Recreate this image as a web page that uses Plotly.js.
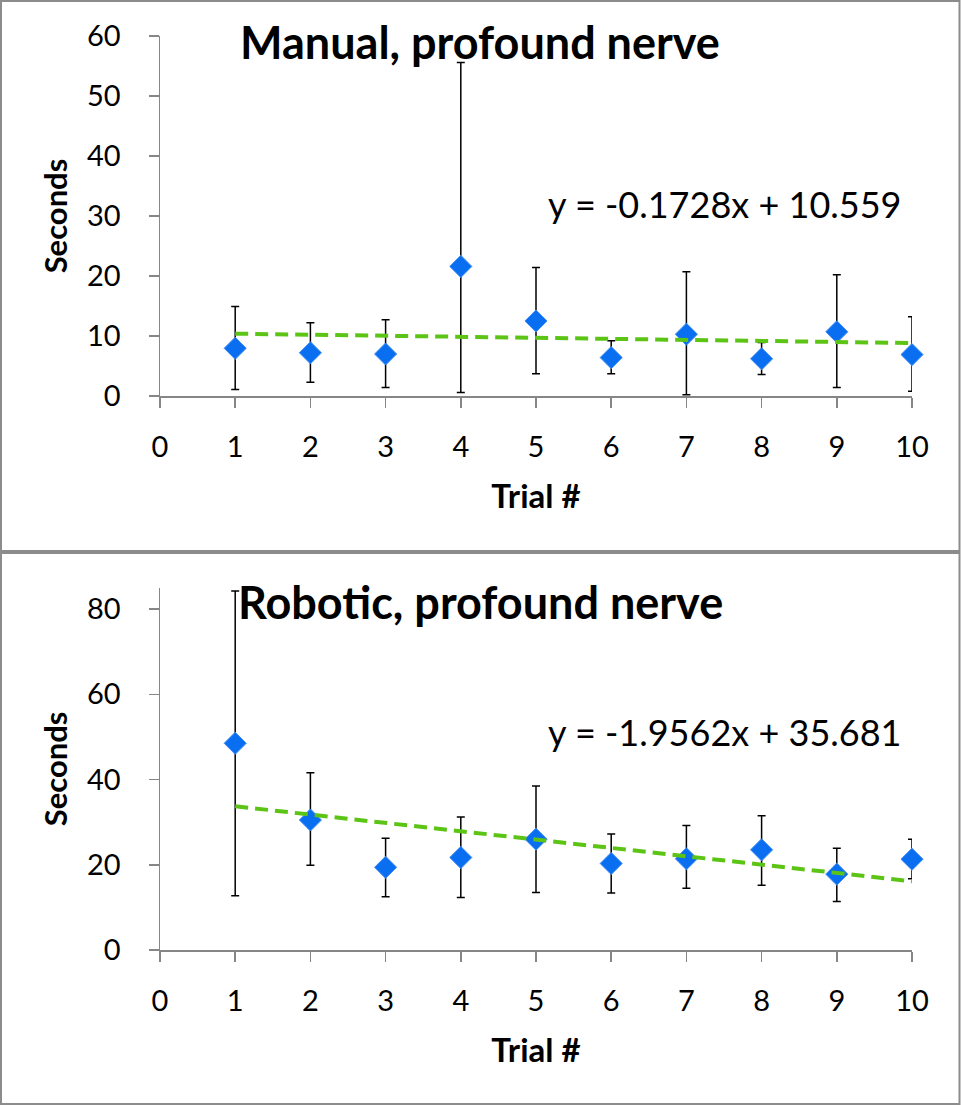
<!DOCTYPE html>
<html>
<head>
<meta charset="utf-8">
<script src="https://cdn.plot.ly/plotly-3.0.1.min.js"></script>
<style>html,body{margin:0;padding:0;background:#fff;}#chart{width:961px;height:1105px;}</style>
</head>
<body>
<div id="chart"></div>
<script>
// Data
const trials = [1, 2, 3, 4, 5, 6, 7, 8, 9, 10];

const manualMean = [7.95, 7.2, 7.0, 21.6, 12.5, 6.4, 10.3, 6.2, 10.7, 6.9];
const manualErrPlus = [6.95, 5.0, 5.7, 34.0, 8.9, 2.8, 10.4, 2.7, 9.5, 6.3];
const manualErrMinus = [6.85, 4.9, 5.6, 21.0, 8.8, 2.7, 10.1, 2.6, 9.3, 6.1];
const manualTrendX = [1, 10];
const manualTrendY = [10.386, 8.831];
const manualEquation = "y = -0.1728x + 10.559";

const roboticMean = [48.5, 30.5, 19.4, 21.7, 26.0, 20.3, 21.4, 23.5, 17.8, 21.3];
const roboticErrPlus = [35.7, 11.1, 6.8, 9.5, 12.5, 6.9, 7.8, 8.0, 6.1, 4.7];
const roboticErrMinus = [35.8, 10.6, 6.9, 9.4, 12.5, 6.9, 6.9, 8.3, 6.4, 4.6];
const roboticTrendX = [1, 10];
const roboticTrendY = [33.725, 16.119];
const roboticEquation = "y = -1.9562x + 35.681";

const titles = ["Manual, profound nerve", "Robotic, profound nerve"];
const xTitle = "Trial #";
const yTitle = "Seconds";
const xTicks = [0, 1, 2, 3, 4, 5, 6, 7, 8, 9, 10];

// Styling
const W = 961, H = 1105;
const FONT = "Lato, 'Open Sans', sans-serif";
const markerColor = "#0a6ef0";
const trendColor = "#5cc414";
const axisColor = "#868686";
const px = v => v / W;
const py = v => 1 - v / H;

function pointsTrace(y, plus, minus, yaxis) {
  return {
    type: "scatter", mode: "markers", x: trials, y: y, cliponaxis: false,
    xaxis: yaxis === "y" ? "x" : "x2", yaxis: yaxis,
    marker: {symbol: "diamond", size: 17, color: markerColor, line: {color: "#3f8cf5", width: 1}},
    error_y: {type: "data", symmetric: false, array: plus, arrayminus: minus,
              color: "#000", thickness: 1.5, width: 4},
    showlegend: false, hoverinfo: "x+y"
  };
}
function trendTrace(x, y, yaxis) {
  return {
    type: "scatter", mode: "lines", x: x, y: y, cliponaxis: false,
    xaxis: yaxis === "y" ? "x" : "x2", yaxis: yaxis,
    line: {color: trendColor, width: 4, dash: "13px,7px"},
    showlegend: false, hoverinfo: "skip"
  };
}

const xCommon = {
  range: [0, 10], tickvals: xTicks, showgrid: false, zeroline: false,
  showline: true, linecolor: axisColor, linewidth: 1.5,
  ticks: "outside", ticklen: 10, tickcolor: axisColor, tickwidth: 1.5,
  tickfont: {family: FONT, size: 29, color: "#000"}, ticklabelstandoff: 15,
  title: {text: xTitle, font: {family: FONT, size: 33, color: "#000", weight: "bold"}, standoff: 22},
  fixedrange: true
};
const yCommon = {
  showgrid: false, zeroline: false,
  showline: true, linecolor: axisColor, linewidth: 1.5,
  ticks: "outside", ticklen: 10, tickcolor: axisColor, tickwidth: 1.5,
  tickfont: {family: FONT, size: 29, color: "#000"}, ticklabelstandoff: 22,
  title: {text: yTitle, font: {family: FONT, size: 31, color: "#000", weight: "bold"}, standoff: 10},
  fixedrange: true
};

const layout = {
  width: W, height: H,
  margin: {l: 0, r: 0, t: 0, b: 0},
  paper_bgcolor: "#fff", plot_bgcolor: "rgba(0,0,0,0)",
  showlegend: false,
  xaxis: Object.assign({}, xCommon, {domain: [px(160), px(912)], anchor: "y"}),
  yaxis: Object.assign({}, yCommon, {domain: [py(396), py(36)], range: [0, 60], dtick: 10, anchor: "x"}),
  xaxis2: Object.assign({}, xCommon, {domain: [px(160), px(912)], anchor: "y2"}),
  yaxis2: Object.assign({}, yCommon, {domain: [py(950), py(587.7)], range: [0, 85], tickvals: [0, 20, 40, 60, 80], anchor: "x2"}),
  shapes: [
    {type: "rect", xref: "paper", yref: "paper", x0: px(1), x1: px(959.5), y0: py(551), y1: py(1),
     line: {color: "#8c8c8c", width: 2}, fillcolor: "rgba(0,0,0,0)"},
    {type: "rect", xref: "paper", yref: "paper", x0: px(1), x1: px(959.5), y0: py(1104), y1: py(553),
     line: {color: "#8c8c8c", width: 2}, fillcolor: "rgba(0,0,0,0)"}
  ],
  annotations: [
    {text: titles[0], xref: "paper", yref: "paper", x: px(480), y: py(42), xanchor: "center", yanchor: "middle",
     showarrow: false, font: {family: FONT, size: 45, color: "#000", weight: "bold"}},
    {text: titles[1], xref: "paper", yref: "paper", x: px(481), y: py(602), xanchor: "center", yanchor: "middle",
     showarrow: false, font: {family: FONT, size: 45, color: "#000", weight: "bold"}},
    {text: manualEquation, xref: "paper", yref: "paper", x: px(724), y: py(204), xanchor: "center", yanchor: "middle",
     showarrow: false, font: {family: FONT, size: 36, color: "#000"}},
    {text: roboticEquation, xref: "paper", yref: "paper", x: px(724), y: py(732), xanchor: "center", yanchor: "middle",
     showarrow: false, font: {family: FONT, size: 36, color: "#000"}}
  ]
};

const data = [
  pointsTrace(manualMean, manualErrPlus, manualErrMinus, "y"),
  trendTrace(manualTrendX, manualTrendY, "y"),
  pointsTrace(roboticMean, roboticErrPlus, roboticErrMinus, "y2"),
  trendTrace(roboticTrendX, roboticTrendY, "y2")
];

Plotly.newPlot("chart", data, layout, {displayModeBar: false, staticPlot: true});
</script>
</body>
</html>
